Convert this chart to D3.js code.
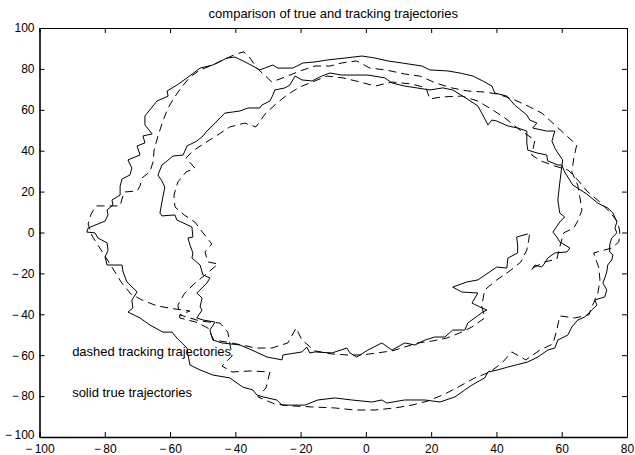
<!DOCTYPE html>
<html>
<head>
<meta charset="utf-8">
<script src="https://cdn.jsdelivr.net/npm/d3@7"></script>
<style>
    body { margin: 0; background: #fff; }
    text { font-family: "Liberation Sans", Arial, Helvetica, sans-serif; fill: #000; }
</style>
</head>
<body>
<div id="chart"></div>
<script>
const xTickValues = [-100, -80, -60, -40, -20, 0, 20, 40, 60, 80]
const yTickValues = [-100, -80, -60, -40, -20, 0, 20, 40, 60, 80, 100]
const titleText = "comparison of true and tracking trajectories"
const noteLabels = ["dashed tracking trajectories", "solid true trajectories"]
const noteX = [-90, -90]
const noteY = [-60, -80]

// true trajectory (solid), two laps
const trueTraj = [
    [50.8,-18.3],[51.8,-15.9],[53.9,-16.9],[54.8,-14.9],[55.7,-12.5],[57.9,-10.0],[61.6,-9.5],[62.5,-7.6],
    [59.4,-4.6],[58.5,-2.2],[57.3,0.2],[59.4,5.1],[60.9,7.6],[59.4,9.5],[58.8,15.9],[59.4,24.2],[60.0,32.0],
    [60.3,35.5],[58.8,38.9],[57.9,41.3],[57.0,44.7],[57.9,49.6],[55.4,49.6],[51.1,51.1],[52.4,53.5],[50.2,55.0],
    [49.3,57.5],[45.6,62.3],[43.2,66.7],[39.5,68.2],[38.6,71.6],[35.8,74.1],[32.8,76.5],[28.8,78.0],[25.1,79.0],
    [19.6,79.5],[17.2,81.4],[11.0,82.9],[6.7,83.9],[2.8,85.3],[-1.2,86.3],[-6.4,85.3],[-11.6,84.4],[-15.6,83.4],
    [-19.3,82.9],[-22.4,80.4],[-27.0,80.4],[-28.5,81.9],[-32.5,79.5],[-36.4,82.9],[-40.1,85.8],[-42.6,85.3],
    [-46.9,81.9],[-50.8,80.4],[-54.8,75.6],[-57.9,72.1],[-60.9,69.2],[-60.6,66.7],[-64.0,64.3],[-67.7,57.0],
    [-67.7,52.6],[-65.5,48.2],[-68.3,47.2],[-67.7,43.8],[-70.1,42.3],[-69.2,37.9],[-72.9,35.5],[-71.7,31.5],
    [-72.3,28.1],[-74.7,26.2],[-75.3,22.7],[-75.3,18.3],[-77.8,15.9],[-77.5,13.4],[-79.3,11.0],[-79.0,8.6],
    [-79.9,5.6],[-83.6,3.2],[-85.1,2.2],[-85.5,0.2],[-83.0,-0.2],[-82.1,-2.7],[-79.3,-5.1],[-79.0,-8.6],
    [-79.9,-12.0],[-79.3,-15.9],[-74.7,-15.9],[-74.4,-19.3],[-73.2,-24.2],[-70.1,-29.1],[-71.7,-33.0],
    [-71.4,-36.9],[-72.9,-38.9],[-69.2,-41.8],[-66.2,-45.2],[-62.2,-48.7],[-59.4,-48.7],[-57.9,-51.6],
    [-56.4,-54.0],[-54.8,-56.5],[-54.5,-59.9],[-53.9,-64.8],[-50.8,-67.2],[-46.9,-69.7],[-41.7,-71.1],
    [-39.5,-73.6],[-37.7,-75.6],[-34.6,-77.0],[-33.4,-79.5],[-31.5,-80.4],[-27.3,-81.9],[-25.7,-84.4],
    [-18.7,-84.4],[-14.7,-81.9],[-9.5,-80.9],[-4.3,-81.9],[1.8,-82.9],[4.9,-81.9],[6.4,-83.4],[11.9,-81.9],
    [18.1,-81.9],[22.7,-82.9],[27.3,-80.4],[30.3,-77.0],[32.5,-74.6],[36.4,-71.1],[37.4,-68.2],[40.4,-67.2],
    [43.5,-65.8],[49.6,-63.3],[52.7,-60.9],[55.7,-57.5],[57.9,-56.5],[58.8,-52.6],[61.9,-50.1],[63.1,-46.2],
    [64.9,-42.8],[67.1,-41.3],[69.2,-37.9],[70.8,-35.5],[70.1,-33.0],[73.2,-31.5],[73.8,-28.1],[72.6,-24.7],
    [73.2,-22.2],[73.8,-19.3],[74.1,-15.9],[75.3,-13.4],[75.7,-11.0],[74.7,-9.5],[74.7,-6.1],[75.3,-2.7],
    [76.9,-0.2],[76.3,2.2],[76.9,5.1],[75.7,9.5],[74.1,12.0],[71.0,14.4],[67.7,18.8],[63.4,23.2],[60.9,29.6],
    [60.0,33.0],[58.8,33.0],[55.7,35.0],[55.4,37.9],[52.4,38.9],[49.6,40.3],[49.3,43.8],[49.3,49.6],[46.5,51.1],
    [43.5,52.1],[40.1,54.5],[38.6,55.0],[37.4,52.6],[35.8,57.5],[34.3,61.9],[29.7,66.7],[26.6,69.7],[23.6,70.7],
    [19.6,69.7],[15.6,70.7],[11.9,71.6],[8.0,73.1],[5.8,75.6],[0.6,77.0],[-3.4,77.0],[-7.4,77.0],[-11.0,78.0],
    [-13.5,76.5],[-16.5,74.1],[-19.6,74.6],[-21.7,76.5],[-23.3,72.1],[-24.8,70.7],[-27.9,69.7],[-28.5,67.2],
    [-29.4,64.3],[-31.9,62.3],[-32.5,60.9],[-36.1,60.9],[-38.6,59.4],[-43.2,58.4],[-44.7,56.0],[-46.2,53.5],
    [-48.7,49.6],[-49.9,47.2],[-51.8,44.7],[-54.8,42.3],[-56.0,37.9],[-59.1,37.4],[-60.9,35.0],[-62.5,33.0],
    [-63.7,28.1],[-62.5,25.2],[-61.6,22.2],[-62.2,17.4],[-63.1,9.5],[-62.5,8.1],[-58.5,8.6],[-57.9,6.1],
    [-53.3,2.7],[-53.0,-2.2],[-54.5,-2.7],[-53.9,-6.1],[-53.0,-10.0],[-53.3,-12.5],[-50.8,-15.9],[-49.9,-20.8],
    [-47.8,-22.2],[-48.7,-24.7],[-51.8,-29.6],[-50.2,-32.0],[-50.8,-36.4],[-50.2,-37.9],[-51.8,-41.8],
    [-49.9,-42.8],[-46.2,-43.8],[-47.8,-47.7],[-46.9,-52.6],[-44.1,-54.0],[-38.6,-55.0],[-34.9,-57.5],
    [-30.3,-60.9],[-25.7,-62.3],[-25.4,-59.9],[-19.6,-58.4],[-18.1,-56.0],[-17.2,-58.9],[-15.6,-58.4],
    [-10.4,-58.9],[-5.8,-56.5],[-4.9,-58.9],[-2.8,-60.9],[0.6,-57.5],[4.9,-54.0],[8.0,-57.5],[11.9,-54.0],
    [15.0,-55.0],[18.1,-52.6],[21.1,-51.1],[24.2,-51.1],[26.6,-47.7],[30.3,-47.7],[31.2,-44.3],[35.8,-38.9],
    [37.1,-37.9],[34.9,-36.4],[32.5,-34.5],[34.3,-29.6],[29.4,-29.1],[26.6,-26.7],[30.9,-24.2],[34.3,-23.2],
    [40.1,-16.9],[43.2,-17.4],[43.5,-12.5],[46.5,-10.0],[46.5,-6.1],[46.2,-2.2],[49.6,-0.7]
]

// tracking trajectory (dashed)
const trackTraj = [
    [51.1,-17.4],[54.8,-14.4],[58.5,-13.0],[59.4,-7.1],[60.6,-0.2],[63.7,2.2],[64.9,5.6],[66.2,11.0],
    [65.5,17.8],[64.9,23.2],[63.1,29.6],[63.7,36.4],[64.6,42.8],[61.9,46.7],[57.9,52.6],[53.9,58.4],[50.2,61.4],
    [45.6,64.8],[40.4,67.7],[36.1,68.7],[31.2,69.2],[26.3,70.7],[21.4,73.1],[16.5,76.5],[11.9,77.5],[6.1,79.5],
    [1.2,80.4],[-2.8,83.9],[-7.4,82.9],[-11.0,81.4],[-15.6,81.4],[-20.2,79.0],[-24.8,76.0],[-28.8,73.6],
    [-33.4,80.4],[-35.5,85.3],[-37.4,88.3],[-39.8,87.3],[-43.2,84.8],[-46.9,81.9],[-50.8,79.5],[-53.9,76.0],
    [-56.4,71.2],[-58.8,65.8],[-60.6,60.9],[-62.2,54.5],[-63.7,47.2],[-64.9,40.3],[-65.2,34.5],[-66.2,29.6],
    [-68.6,26.7],[-69.2,22.7],[-70.1,20.3],[-74.1,19.8],[-75.3,13.0],[-79.0,13.0],[-82.7,13.0],[-84.2,9.0],
    [-85.1,4.2],[-83.9,-1.7],[-81.5,-7.6],[-77.8,-16.9],[-75.0,-24.2],[-72.0,-30.1],[-68.6,-33.0],[-64.0,-35.9],
    [-58.5,-37.4],[-53.9,-38.4],[-57.0,-40.3],[-50.8,-43.3],[-44.7,-44.3],[-42.3,-48.7],[-41.0,-60.4],
    [-44.1,-65.3],[-41.0,-68.2],[-35.5,-67.7],[-29.4,-68.2],[-30.6,-76.0],[-33.1,-80.4],[-27.9,-83.9],
    [-22.7,-84.8],[-16.5,-85.3],[-9.5,-85.8],[-3.4,-86.8],[2.8,-86.8],[8.9,-85.8],[14.1,-84.4],[19.0,-82.4],
    [24.2,-79.0],[28.8,-75.1],[33.4,-71.1],[38.0,-68.2],[41.7,-63.8],[44.7,-58.4],[49.0,-62.3],[53.3,-57.5],
    [57.3,-54.5],[58.5,-47.7],[59.4,-40.8],[64.0,-41.8],[68.3,-40.3],[69.5,-35.5],[71.1,-29.6],[71.7,-23.2],
    [71.4,-17.4],[69.8,-10.0],[75.3,-7.6],[77.5,-4.6],[77.8,0.2],[77.2,5.1],[74.7,10.0],[71.7,14.9],[68.0,19.8],
    [64.9,25.7],[61.9,30.6],[57.9,32.5],[53.6,35.0],[50.8,37.9],[51.8,45.2],[47.2,50.1],[42.6,56.0],[38.9,59.9],
    [34.3,64.3],[29.4,66.7],[23.3,66.3],[19.6,65.3],[18.4,70.7],[14.1,72.6],[8.0,73.6],[2.8,71.6],[-1.8,73.6],
    [-7.0,75.6],[-11.9,76.5],[-15.6,74.1],[-20.2,71.2],[-24.2,67.2],[-27.6,62.8],[-30.9,57.9],[-33.7,51.6],
    [-37.1,53.5],[-41.7,51.6],[-45.9,47.2],[-49.3,43.8],[-53.0,39.9],[-55.1,36.4],[-52.4,31.5],[-55.1,29.6],
    [-57.6,24.7],[-58.8,18.3],[-58.5,12.5],[-55.7,8.6],[-52.4,5.1],[-49.9,-0.2],[-47.2,-5.6],[-49.3,-9.5],
    [-48.4,-14.4],[-45.3,-15.4],[-49.3,-20.8],[-52.7,-25.2],[-55.7,-30.1],[-57.6,-35.5],[-57.0,-41.8],
    [-52.1,-43.8],[-48.4,-46.7],[-46.6,-52.6],[-42.9,-53.5],[-38.0,-55.0],[-33.7,-56.5],[-28.8,-56.5],
    [-23.9,-54.0],[-21.4,-46.7],[-19.6,-52.6],[-15.6,-57.9],[-10.4,-59.4],[-5.5,-59.9],[-1.2,-59.9],[3.4,-58.9],
    [8.0,-57.9],[11.9,-56.0],[15.9,-54.0],[20.2,-53.1],[24.8,-51.6],[28.8,-49.1],[32.5,-46.2],[36.4,-41.8],
    [35.5,-35.9],[36.4,-28.1],[40.1,-23.2],[44.1,-18.8],[47.5,-14.4],[49.3,-8.6],[49.9,-3.7],[50.2,0.2]
]

const W = 635, H = 455
const margin = {top: 28, right: 8, bottom: 18, left: 39.5}

const svg = d3.select('#chart').append('svg')
    .attr('width', W)
    .attr('height', H)

const x = d3.scaleLinear().domain([-100, 80]).range([margin.left, W - margin.right])
const y = d3.scaleLinear().domain([-100, 100]).range([H - margin.bottom, margin.top])

const fmt = d => d < 0 ? '\u2212\u2009' + Math.abs(d) : String(d)

// box with inward ticks, MATLAB style
svg.append('g')
    .attr('transform', `translate(0,${margin.top})`)
    .call(d3.axisTop(x).tickValues(xTickValues).tickSize(-5).tickSizeOuter(0).tickFormat(''))
svg.append('g')
    .attr('transform', `translate(${W - margin.right},0)`)
    .call(d3.axisRight(y).tickValues(yTickValues).tickSize(-5).tickSizeOuter(0).tickFormat(''))
const xAxis = svg.append('g')
    .attr('transform', `translate(0,${H - margin.bottom})`)
    .call(d3.axisBottom(x).tickValues(xTickValues).tickSize(-5).tickSizeOuter(0).tickPadding(7).tickFormat(fmt))
const yAxis = svg.append('g')
    .attr('transform', `translate(${margin.left},0)`)
    .call(d3.axisLeft(y).tickValues(yTickValues).tickSize(-5).tickSizeOuter(0).tickPadding(5).tickFormat(fmt))

svg.selectAll('.domain').attr('stroke', '#000')
svg.selectAll('.tick line').attr('stroke', '#000')
xAxis.select('.domain').attr('stroke-width', 1.6)
yAxis.select('.domain').attr('stroke-width', 1.6)
svg.selectAll('.tick text')
    .attr('fill', '#000')
    .style('font-size', '12px')
    .style('font-family', '"Liberation Sans", Arial, sans-serif')
// lift the lowest y label a little so it clears the first x label
yAxis.selectAll('.tick text').filter(d => d === yTickValues[0]).attr('y', -2)

const line = d3.line()
    .x(d => x(d[0]))
    .y(d => y(d[1]))

svg.append('path')
    .datum(trackTraj)
    .attr('fill', 'none')
    .attr('stroke', '#000')
    .attr('stroke-width', 1)
    .attr('stroke-dasharray', '8,5')
    .attr('d', line)

svg.append('path')
    .datum(trueTraj)
    .attr('fill', 'none')
    .attr('stroke', '#000')
    .attr('stroke-width', 1)
    .attr('d', line)

svg.selectAll('text.note')
    .data(noteLabels)
    .enter().append('text')
    .attr('class', 'note')
    .attr('x', (d, i) => x(noteX[i]))
    .attr('y', (d, i) => y(noteY[i]))
    .attr('dy', '0.08em')
    .style('font-size', '13px')
    .text(d => d)

svg.append('text')
    .attr('x', (x(-100) + x(80)) / 2)
    .attr('y', 18)
    .attr('text-anchor', 'middle')
    .style('font-size', '13px')
    .text(titleText)
</script>
</body>
</html>
